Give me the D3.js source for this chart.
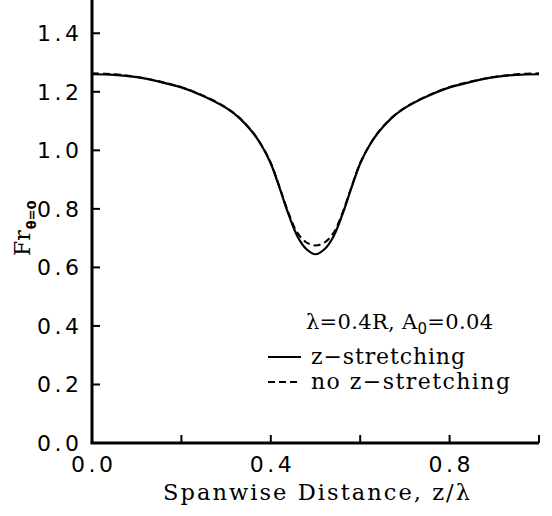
<!DOCTYPE html>
<html><head><meta charset="utf-8">
<script src="https://cdn.jsdelivr.net/npm/d3@7"></script>
<style>body{margin:0;background:#fff}svg{display:block}</style>
</head><body>
<svg id="c" width="552" height="516"></svg>
<script>
const zValues   = [0.00,0.05,0.10,0.15,0.20,0.25,0.30,0.33,0.36,0.38,0.40,0.42,0.44,0.46,0.48,0.50,0.52,0.54,0.56,0.58,0.60,0.62,0.64,0.67,0.70,0.75,0.80,0.85,0.90,0.95,1.00];
const stretched = [1.260,1.258,1.250,1.235,1.215,1.185,1.145,1.110,1.060,1.015,0.955,0.870,0.780,0.705,0.662,0.645,0.662,0.705,0.780,0.870,0.955,1.015,1.060,1.110,1.145,1.185,1.215,1.235,1.250,1.258,1.260];
const noStretch = [1.263,1.260,1.251,1.236,1.216,1.186,1.146,1.111,1.061,1.016,0.957,0.873,0.785,0.717,0.685,0.675,0.685,0.717,0.785,0.873,0.957,1.016,1.061,1.111,1.146,1.186,1.216,1.236,1.251,1.260,1.263];
const xTicks = [0.0,0.2,0.4,0.6,0.8,1.0];
const xLabels = [0.0,0.4,0.8];
const yTicks = [0.0,0.2,0.4,0.6,0.8,1.0,1.2,1.4];

const svg = d3.select("#c");
const x = d3.scaleLinear().domain([0,1]).range([92,539]);
const y = d3.scaleLinear().domain([0,1.5]).range([443,4]);

const serif = "'DejaVu Serif', 'Liberation Serif', serif";
const sans = "'DejaVu Sans', 'Liberation Sans', sans-serif";

// axes lines
svg.append("line").attr("x1",x(0)).attr("x2",x(0)).attr("y1",0).attr("y2",y(0))
  .attr("stroke","#000").attr("stroke-width",3);
svg.append("line").attr("x1",x(0)-1.5).attr("x2",x(1)).attr("y1",y(0)).attr("y2",y(0))
  .attr("stroke","#000").attr("stroke-width",3);

// ticks
svg.selectAll(".xt").data(xTicks.slice(1)).enter().append("line")
  .attr("x1",d=>x(d)).attr("x2",d=>x(d)).attr("y1",y(0)).attr("y2",y(0)-8)
  .attr("stroke","#000").attr("stroke-width",2);
svg.selectAll(".yt").data(yTicks.slice(1)).enter().append("line")
  .attr("x1",x(0)).attr("x2",x(0)+8).attr("y1",d=>y(d)).attr("y2",d=>y(d))
  .attr("stroke","#000").attr("stroke-width",2);

// tick labels
svg.selectAll(".xl").data(xLabels).enter().append("text")
  .attr("x",d=>x(d)-21).attr("y",472).attr("textLength",42).attr("lengthAdjust","spacing")
  .attr("font-family",sans).attr("font-size",22).text(d=>d.toFixed(1));
svg.selectAll(".yl").data(yTicks).enter().append("text")
  .attr("x",37).attr("y",d=>y(d)+8).attr("textLength",42).attr("lengthAdjust","spacing")
  .attr("font-family",sans).attr("font-size",22).text(d=>d.toFixed(1));

// axis titles
svg.append("text").attr("x",163).attr("y",500).attr("textLength",307).attr("lengthAdjust","spacing")
  .attr("font-family",serif).attr("font-size",22.5).text("Spanwise Distance, z/λ");
const yt = svg.append("text").attr("transform","translate(30,256) rotate(-90)")
  .attr("font-family",serif).attr("font-size",22);
yt.append("tspan").text("Fr");
yt.append("tspan").attr("dx",1).attr("dy",6).attr("font-size",13).attr("font-family",sans).attr("font-weight","bold").text("θ=0");

// curves
const line = d3.line().x((d,i)=>x(zValues[i])).y(d=>y(d)).curve(d3.curveCatmullRom.alpha(0.5));
svg.append("path").datum(noStretch).attr("d",line).attr("fill","none")
  .attr("stroke","#000").attr("stroke-width",2).attr("stroke-dasharray","7,4");
svg.append("path").datum(stretched).attr("d",line).attr("fill","none")
  .attr("stroke","#000").attr("stroke-width",2.2);

// legend
const lt = svg.append("text").attr("x",306).attr("y",329).attr("textLength",187).attr("lengthAdjust","spacing")
  .attr("font-family",serif).attr("font-size",21);
lt.append("tspan").text("λ=0.4R, A");
lt.append("tspan").attr("dy",5).attr("font-size",15).attr("font-family",sans).text("0");
lt.append("tspan").attr("dy",-5).text("=0.04");

svg.append("line").attr("x1",268).attr("x2",301).attr("y1",357).attr("y2",357)
  .attr("stroke","#000").attr("stroke-width",2);
svg.append("line").attr("x1",268).attr("x2",301).attr("y1",382).attr("y2",382)
  .attr("stroke","#000").attr("stroke-width",2).attr("stroke-dasharray","7,4");
svg.append("text").attr("x",311).attr("y",364).attr("textLength",154).attr("lengthAdjust","spacing")
  .attr("font-family",serif).attr("font-size",22).text("z−stretching");
svg.append("text").attr("x",311).attr("y",389).attr("textLength",199).attr("lengthAdjust","spacing")
  .attr("font-family",serif).attr("font-size",22).text("no z−stretching");
</script>
</body></html>
